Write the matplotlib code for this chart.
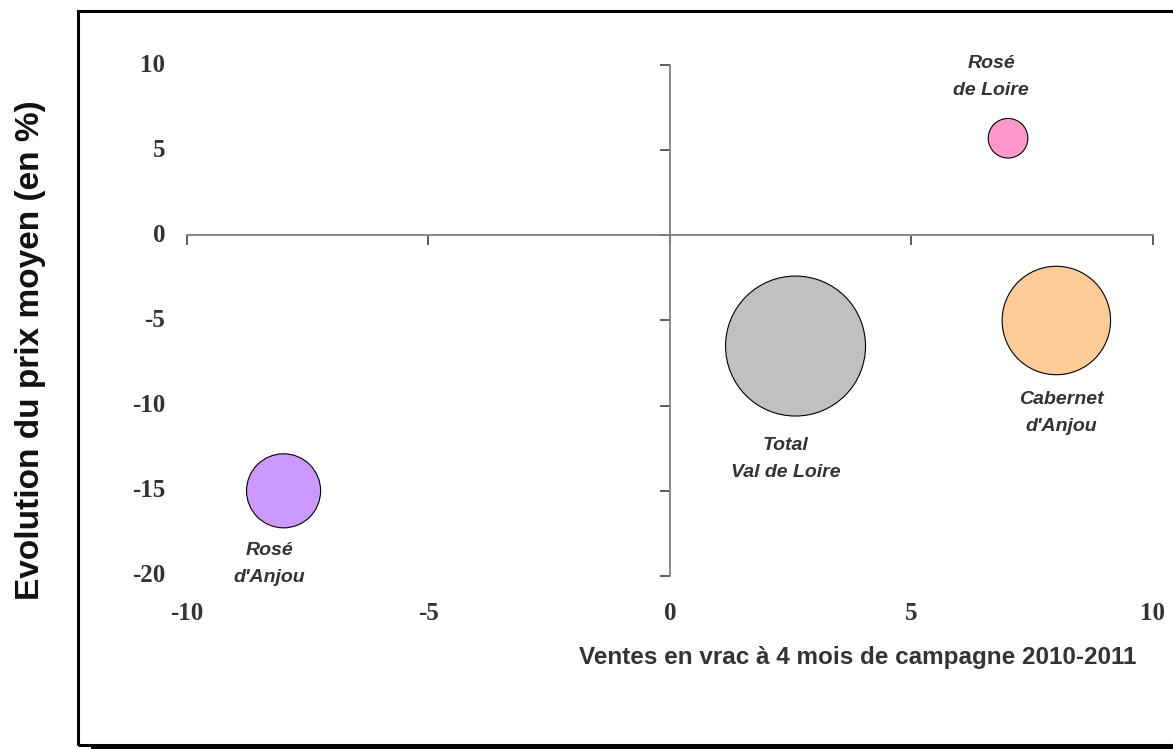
import numpy as np
import matplotlib.pyplot as plt
from matplotlib.patches import Rectangle

# appellations (bulles)
appellations = ["Rosé\nde Loire", "Cabernet\nd'Anjou", "Total\nVal de Loire", "Rosé\nd'Anjou"]
ventes = [7.0, 8.0, 2.6, -8.0]          # evolution des ventes en vrac (%)
prix = [5.7, -5.0, -6.5, -15.0]         # evolution du prix moyen (%)
volumes = [8, 60, 100, 28]              # taille relative des bulles
couleurs = ["#FF99CC", "#FFCC99", "#C0C0C0", "#CC99FF"]

# position des etiquettes
label_x = [6.65, 8.1, 2.4, -8.3]
label_y = [9.3, -10.45, -13.15, -19.3]

x_ticks = [-10, -5, 0, 5, 10]
y_ticks = [-20, -15, -10, -5, 0, 5, 10]

fig = plt.figure(figsize=(11.73, 7.49), dpi=100)
ax = fig.add_axes([0.1594, 0.2310, 0.8235, 0.6822])
ax.set_xlim(-10, 10)
ax.set_ylim(-20, 10)

# surface des bulles proportionnelle au volume
r_px = 70 * np.sqrt(np.array(volumes) / max(volumes))
s = (2 * r_px * 72 / 100) ** 2
ax.scatter(ventes, prix, s=s, c=couleurs, edgecolors='black', linewidths=0.8, zorder=3)

for nom, lx, ly in zip(appellations, label_x, label_y):
    ax.text(lx, ly, nom, ha='center', va='center', fontsize=14, fontweight='bold',
            fontstyle='italic', family='Liberation Sans', color='#333333',
            linespacing=1.75, clip_on=False)

# axes qui se croisent en 0
for side in ['top', 'right']:
    ax.spines[side].set_visible(False)
ax.spines['left'].set_position(('data', 0))
ax.spines['bottom'].set_position(('data', 0))
for side in ['left', 'bottom']:
    ax.spines[side].set_color('#808080')
    ax.spines[side].set_linewidth(1.3)
ax.set_xticks(x_ticks)
ax.set_yticks(y_ticks)
ax.tick_params(axis='both', direction='out', length=7, width=1.2, color='#404040',
               labelbottom=False, labelleft=False)

# graduations en bas et a gauche
for xv in x_ticks:
    ax.text(xv, -22.2, str(xv), ha='center', va='center', fontsize=18, fontweight='bold',
            family='Liberation Serif', color='#333333', clip_on=False)
for yv in y_ticks:
    ax.text(-10.45, yv, str(yv), ha='right', va='center', fontsize=18, fontweight='bold',
            family='Liberation Serif', color='#333333', clip_on=False)

fig.text(0.0256, 0.533, "Evolution du prix moyen (en %)", rotation=90, ha='center', va='center',
         fontsize=24, fontweight='bold', family='Liberation Sans', color='#111111')
fig.text(0.7315, 0.1228, "Ventes en vrac à 4 mois de campagne 2010-2011", ha='center', va='center',
         fontsize=17.5, fontweight='bold', family='Liberation Sans', color='#333333')

# cadre + ombre
fig.patches.append(Rectangle((78 / 1173, 4 / 749), 1.2, 734 / 749, transform=fig.transFigure,
                             fill=False, ec='black', lw=2.2))
fig.patches.append(Rectangle((91 / 1173, 0), 1.0, 3 / 749, transform=fig.transFigure,
                             fc='black', ec='none'))

fig.savefig('out.png', dpi=100)
